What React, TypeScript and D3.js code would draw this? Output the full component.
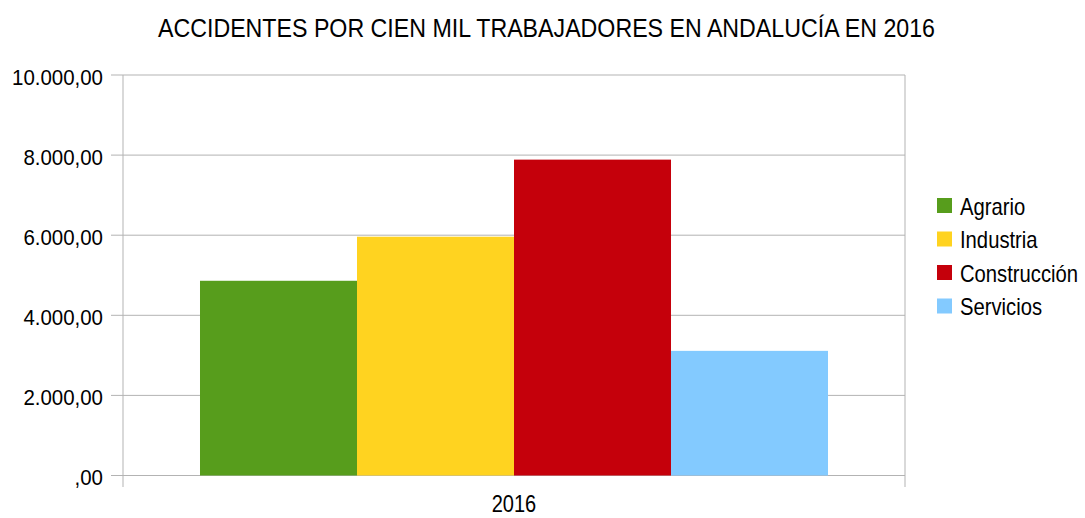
import React from "react";
import * as d3 from "d3";

const title = "ACCIDENTES POR CIEN MIL TRABAJADORES EN ANDALUCÍA EN 2016";
const categories = ["2016"];
const seriesNames = ["Agrario", "Industria", "Construcción", "Servicios"];
const seriesValues = [4862, 5962, 7887, 3112];
const seriesColors = ["#579D1C", "#FFD320", "#C5000B", "#83CAFF"];
const yTicks = [0, 2000, 4000, 6000, 8000, 10000];

const W = 1085;
const H = 518;
const FONT = "'Liberation Sans', Arial, sans-serif";

const fmt = (v: number) => {
  if (v === 0) return ",00";
  const s = d3.format(",.2f")(v);
  return s.replace(/,/g, "X").replace(".", ",").replace(/X/g, ".");
};

export default function App() {
  const left = 123, right = 905, top = 75, bottom = 475.5;
  const y = d3.scaleLinear().domain([0, 10000]).range([bottom, top]);
  const x0 = d3.scaleBand().domain(categories).range([left, right]).paddingInner(0).paddingOuter(0.1226);
  const x1 = d3.scaleBand().domain(seriesNames).range([0, x0.bandwidth()]).padding(0);
  const grid = "#b3b3b3";
  return (
    <svg width={W} height={H} style={{ position: "absolute", left: 0, top: 0, background: "#fff" }}>
      <text x={158} y={37} fontFamily={FONT} fontSize={26} fill="#000" textLength={777} lengthAdjust="spacingAndGlyphs">{title}</text>
      {yTicks.map((t) => (
        <g key={t}>
          <line x1={111} x2={right} y1={y(t)} y2={y(t)} stroke={grid} strokeWidth={1} />
          <g transform={`translate(103, ${y(t) + 9.5}) scale(0.93, 1)`}>
            <text x={0} y={0} textAnchor="end" fontFamily={FONT} fontSize={22} fill="#000">{fmt(t)}</text>
          </g>
        </g>
      ))}
      <line x1={left} x2={left} y1={top} y2={487} stroke={grid} />
      <line x1={right} x2={right} y1={top} y2={487} stroke={grid} />
      {categories.map((c) => (
        <g key={c}>
          {seriesNames.map((s, i) => (
            <rect key={s} x={(x0(c) ?? 0) + (x1(s) ?? 0)} y={y(seriesValues[i])} width={x1.bandwidth()} height={bottom - y(seriesValues[i])} fill={seriesColors[i]} />
          ))}
          <g transform={`translate(${(x0(c) ?? 0) + x0.bandwidth() / 2}, 512) scale(0.87, 1)`}>
            <text x={0} y={0} textAnchor="middle" fontFamily={FONT} fontSize={23} fill="#000">{c}</text>
          </g>
        </g>
      ))}
      {seriesNames.map((s, i) => (
        <g key={s} transform={`translate(937, ${198 + i * 33.5})`}>
          <rect x={0} y={0} width={15} height={15} fill={seriesColors[i]} />
          <g transform="translate(23, 16.5) scale(0.88, 1)">
            <text x={0} y={0} fontFamily={FONT} fontSize={23} fill="#000">{s}</text>
          </g>
        </g>
      ))}
    </svg>
  );
}
